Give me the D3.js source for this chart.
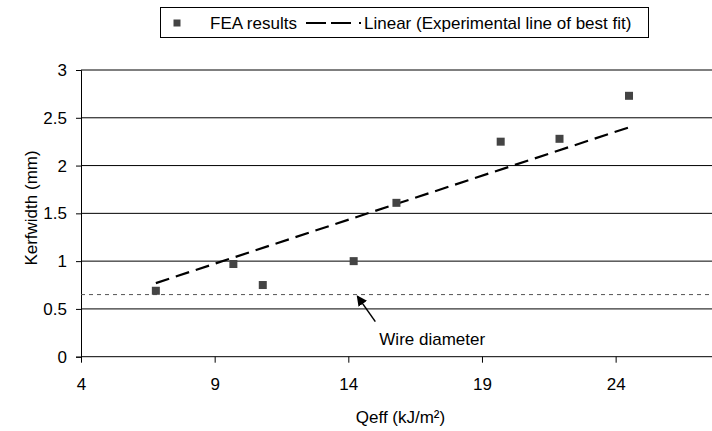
<!DOCTYPE html>
<meta charset="utf-8">
<script src="https://d3js.org/d3.v7.min.js"></script>
<style>
  body { margin: 0; background: #fff; }
  svg text { font-family: "Liberation Sans", Arial, sans-serif; font-size: 17px; fill: #000; }
</style>
<svg id="chart"></svg>
<script>

// data
var qeff = [6.8, 9.7, 10.8, 14.2, 15.8, 19.7, 21.9, 24.5];
var kerf = [0.69, 0.97, 0.75, 1.00, 1.61, 2.25, 2.28, 2.73];
var fitX = [6.8, 24.5];
var fitY = [0.77, 2.40];
var wireDiameter = 0.65;
var wireArrowX = 14.3;
var xTicks = [4, 9, 14, 19, 24];
var yTicks = [0, 0.5, 1, 1.5, 2, 2.5, 3];

var width = 712, height = 431;

var svg = d3.select("#chart")
  .attr("width", width)
  .attr("height", height);

// plot runs past the right edge (axis max 29 is cropped off)
var x = d3.scaleLinear().domain([4, 29]).range([81, 749.3]);
var y = d3.scaleLinear().domain([0, 3]).range([356.7, 70]);

// gridlines
svg.append("g")
  .selectAll("line")
  .data(yTicks)
  .enter()
  .append("line")
    .attr("x1", x(4))
    .attr("x2", x(29))
    .attr("y1", function(d) { return y(d); })
    .attr("y2", function(d) { return y(d); })
    .attr("stroke", "#000")
    .attr("stroke-width", 1);

// axes
var xAxis = svg.append("g")
  .attr("transform", "translate(0," + y(0) + ")")
  .call(d3.axisBottom(x).tickValues(xTicks).tickSize(6).tickPadding(15).tickFormat(d3.format("d")));
xAxis.select(".domain").remove();
xAxis.selectAll(".tick line").attr("stroke", "#000");

var yAxis = svg.append("g")
  .attr("transform", "translate(" + x(4) + ",0)")
  .call(d3.axisLeft(y).tickValues(yTicks).tickSize(5).tickPadding(9).tickFormat(function(d) { return d; }));
yAxis.select(".domain").attr("stroke", "#000");
yAxis.selectAll(".tick line").attr("stroke", "#000");
svg.selectAll(".tick text").style("font-size", "17px").style("font-family", "'Liberation Sans', Arial, sans-serif");

// axis titles
svg.append("text")
  .attr("x", 400.5)
  .attr("y", 423)
  .attr("text-anchor", "middle")
  .text("Qeff (kJ/m²)");

svg.append("text")
  .attr("transform", "translate(37,208) rotate(-90)")
  .attr("text-anchor", "middle")
  .text("Kerfwidth (mm)");

// wire diameter reference line
svg.append("line")
  .attr("x1", x(4))
  .attr("x2", x(29))
  .attr("y1", y(wireDiameter))
  .attr("y2", y(wireDiameter))
  .attr("stroke", "#555")
  .attr("stroke-width", 1)
  .attr("stroke-dasharray", "4,4");

// line of best fit
svg.append("line")
  .attr("x1", x(fitX[0]))
  .attr("y1", y(fitY[0]))
  .attr("x2", x(fitX[1]))
  .attr("y2", y(fitY[1]))
  .attr("stroke", "#000")
  .attr("stroke-width", 2.2)
  .attr("stroke-dasharray", "14,7");

// FEA points
svg.append("g")
  .selectAll("rect")
  .data(qeff)
  .enter()
  .append("rect")
    .attr("x", function(d) { return x(d) - 4; })
    .attr("y", function(d, i) { return y(kerf[i]) - 4; })
    .attr("width", 8)
    .attr("height", 8)
    .attr("fill", "#444");

// annotation arrow
svg.append("defs").append("marker")
  .attr("id", "arrow")
  .attr("viewBox", "0 0 10 10")
  .attr("refX", 9)
  .attr("refY", 5)
  .attr("markerWidth", 7)
  .attr("markerHeight", 7)
  .attr("orient", "auto")
  .append("path")
    .attr("d", "M0,0 L10,5 L0,10 z")
    .attr("fill", "#000");

var tipX = x(wireArrowX), tipY = y(wireDiameter);
svg.append("line")
  .attr("x1", tipX + 19)
  .attr("y1", tipY + 27)
  .attr("x2", tipX + 1)
  .attr("y2", tipY + 1.5)
  .attr("stroke", "#000")
  .attr("stroke-width", 1.5)
  .attr("marker-end", "url(#arrow)");

svg.append("text")
  .attr("x", tipX + 23)
  .attr("y", tipY + 50)
  .text("Wire diameter");

// legend
var legend = svg.append("g");
legend.append("rect")
  .attr("x", 160.5)
  .attr("y", 7.5)
  .attr("width", 488)
  .attr("height", 30)
  .attr("fill", "#fff")
  .attr("stroke", "#000")
  .attr("stroke-width", 1);
legend.append("rect")
  .attr("x", 173.5)
  .attr("y", 19.5)
  .attr("width", 7)
  .attr("height", 7)
  .attr("fill", "#444");
legend.append("text")
  .attr("x", 210)
  .attr("y", 29)
  .text("FEA results");
legend.append("line")
  .attr("x1", 306)
  .attr("x2", 363)
  .attr("y1", 23)
  .attr("y2", 23)
  .attr("stroke", "#000")
  .attr("stroke-width", 2.2)
  .attr("stroke-dasharray", "20,5,20,8,2,20");
legend.append("text")
  .attr("x", 364)
  .attr("y", 29)
  .text("Linear (Experimental line of best fit)");

</script>
